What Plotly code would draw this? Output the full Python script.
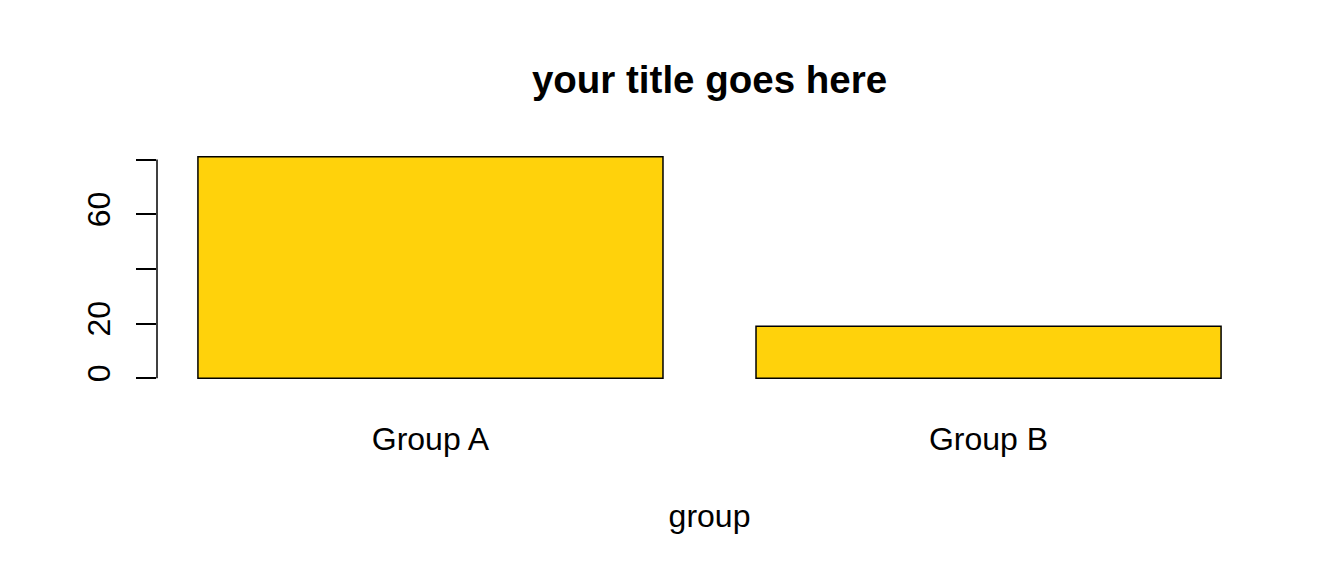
import plotly.graph_objects as go

categories = ["Group A", "Group B"]
values = [81, 19]
bar_positions = [0.7, 1.9]
y_ticks = [0, 20, 40, 60, 80]
y_tick_labels = ["0", "20", "", "60", ""]

FONT = "Liberation Sans, Arial, Helvetica, sans-serif"
FILL = "#FFD20B"

fig = go.Figure()
fig.add_trace(go.Bar(
    x=bar_positions, y=values, width=1.0,
    marker=dict(color=FILL, line=dict(color="black", width=1.5)),
    hoverinfo="skip",
))

fig.add_shape(type="line", xref="paper", yref="y",
              x0=0, x1=0, y0=min(y_ticks), y1=max(y_ticks),
              line=dict(color="black", width=1.5))

fig.update_layout(
    width=1344, height=576,
    margin=dict(l=149, r=90, t=140, b=197, pad=0),
    paper_bgcolor="white", plot_bgcolor="white",
    showlegend=False,
    font=dict(family=FONT, size=32, color="black"),
    title=dict(text="<b>your title goes here</b>", x=0.5, xref="paper",
               y=1 - 72 / 576, yref="container", xanchor="center", yanchor="middle",
               font=dict(size=38.5, family=FONT, color="black")),
    xaxis=dict(range=[0.112, 2.488], tickvals=bar_positions, ticktext=categories,
               showline=False, showgrid=False, zeroline=False, ticks="",
               ticklabelstandoff=30,
               title=dict(text="group", standoff=48, font=dict(size=32, family=FONT)),
               automargin=False),
    yaxis=dict(range=[-3.24, 84.24], tickvals=y_ticks, ticktext=y_tick_labels,
               ticks="outside", ticklen=20, tickwidth=1.5, tickcolor="black",
               tickangle=-90, ticklabelstandoff=13,
               showline=False, showgrid=False, zeroline=False, automargin=False),
)

fig.write_html("out.html")
